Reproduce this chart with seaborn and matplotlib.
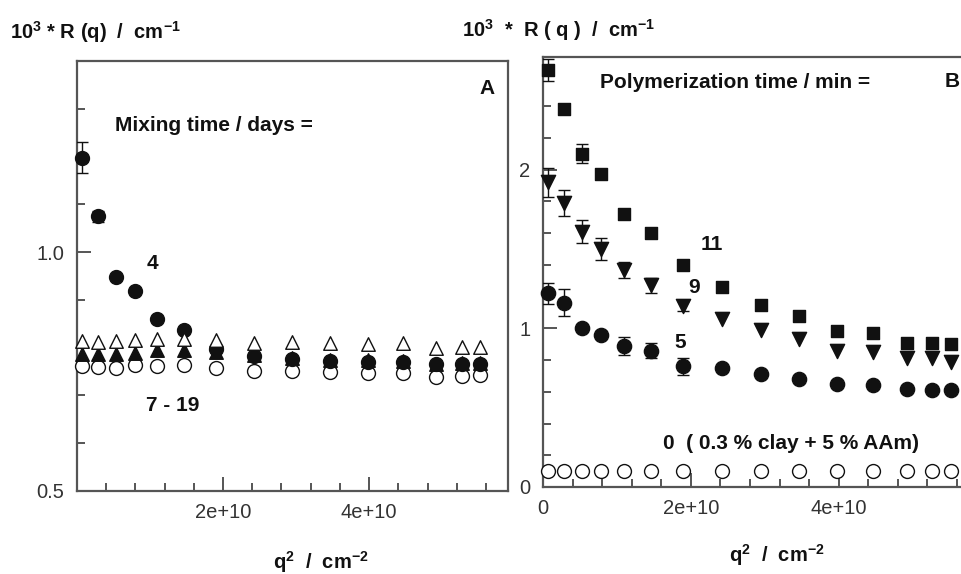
import numpy as np
import pandas as pd
import seaborn as sns
import matplotlib
matplotlib.use("Agg")
import matplotlib.pyplot as plt
from matplotlib.ticker import MultipleLocator, FixedLocator, FuncFormatter

sns.set_style("ticks")
plt.rcParams['font.family'] = ['Liberation Sans', 'DejaVu Sans']
plt.rcParams['mathtext.fontset'] = 'custom'
plt.rcParams['mathtext.rm'] = 'Liberation Sans:bold'
plt.rcParams['mathtext.default'] = 'rm'

# q^2 values (cm^-2), shared by both panels
q2 = np.array([0.07, 0.29, 0.53, 0.79, 1.10, 1.46, 1.90, 2.42, 2.95,
               3.47, 3.98, 4.46, 4.92, 5.27, 5.52]) * 1e10

# panel A: mixing time / days
a_4 = [1.198, 1.075, 0.948, 0.919, 0.861, 0.837, 0.797, 0.782, 0.776,
       0.773, 0.771, 0.770, 0.765, 0.765, 0.766]
a_4_err = [0.032, 0.012, 0, 0, 0, 0, 0, 0, 0, 0, 0, 0, 0, 0, 0]
a_open_tri = [0.814, 0.812, 0.814, 0.817, 0.819, 0.819, 0.816, 0.809, 0.812,
              0.810, 0.808, 0.809, 0.799, 0.802, 0.802]
a_fill_tri = [0.787, 0.787, 0.787, 0.789, 0.795, 0.795, 0.791, 0.785, 0.778,
              0.775, 0.774, 0.773, 0.766, 0.767, 0.767]
a_open_circ = [0.761, 0.759, 0.757, 0.764, 0.761, 0.763, 0.757, 0.752, 0.752,
               0.749, 0.746, 0.747, 0.738, 0.741, 0.743]

# panel B: polymerization time / min
b_11 = [2.63, 2.38, 2.10, 1.97, 1.72, 1.60, 1.40, 1.26, 1.15, 1.08, 0.98, 0.97, 0.91, 0.91, 0.90]
b_11_err = [0.07, 0, 0.06, 0, 0, 0, 0, 0, 0, 0, 0, 0, 0, 0, 0]
b_9 = [1.92, 1.79, 1.61, 1.50, 1.37, 1.27, 1.14, 1.06, 0.99, 0.93, 0.86, 0.85, 0.81, 0.81, 0.79]
b_9_err = [0.09, 0.08, 0.07, 0.07, 0.05, 0.05, 0.03, 0, 0, 0, 0, 0, 0, 0, 0]
b_5 = [1.22, 1.16, 1.00, 0.96, 0.89, 0.86, 0.76, 0.75, 0.71, 0.68, 0.65, 0.64, 0.62, 0.61, 0.61]
b_5_err = [0.065, 0.085, 0.02, 0.02, 0.058, 0.05, 0.053, 0, 0, 0, 0, 0, 0, 0, 0]
b_0 = [0.10, 0.10, 0.10, 0.10, 0.10, 0.10, 0.10, 0.10, 0.10, 0.10, 0.10, 0.10, 0.10, 0.10, 0.10]

INK = '#111111'
SPINE = '#555555'
TICKC = '#333333'

fig = plt.figure(figsize=(9.62, 5.74), dpi=100)
axA = fig.add_axes([0.080, 0.1446, 0.448, 0.7491])
axB = fig.add_axes([0.5645, 0.1516, 0.4532, 0.7491])


def pts(ax, y, marker, filled, size, err=None, z=3):
    df = pd.DataFrame({'q2': q2, 'R': y})
    if err is not None:
        err = np.array(err)
        m = err > 0
        ax.errorbar(q2[m], np.array(y)[m], yerr=err[m], fmt='none', ecolor=INK,
                    elinewidth=1.0, capsize=4, capthick=1.0, zorder=z - 0.5)
    sns.scatterplot(data=df, x='q2', y='R', ax=ax, marker=marker, s=size,
                    color=INK if filled else 'white', edgecolor=INK,
                    linewidth=1.0, zorder=z, clip_on=False, legend=False)


# panel A
pts(axA, a_open_circ, 'o', False, 100, z=3)
pts(axA, a_fill_tri, '^', True, 95, z=4)
pts(axA, a_4, 'o', True, 100, err=a_4_err, z=5)
pts(axA, a_open_tri, '^', False, 95, z=6)

# panel B
pts(axB, b_0, 'o', False, 100, z=3)
pts(axB, b_5, 'o', True, 105, err=b_5_err, z=4)
pts(axB, b_9, 'v', True, 105, err=b_9_err, z=5)
pts(axB, b_11, 's', True, 85, err=b_11_err, z=6)


def qfmt(v, pos):
    return "0" if abs(v) < 1 else f"{v:.0e}"


for ax in (axA, axB):
    ax.set_xlim(0, 5.9e10)
    ax.set_xlabel("")
    ax.set_ylabel("")
    for s in ax.spines.values():
        s.set_visible(True)
        s.set_color(SPINE)
        s.set_linewidth(1.6)
    ax.tick_params(which='both', direction='in', color=SPINE, width=1.4,
                   labelcolor=TICKC, labelsize=14.5, top=False, right=False)
    ax.tick_params(which='major', length=10, pad=9)
    ax.tick_params(which='minor', length=5.5)
    ax.xaxis.set_minor_locator(MultipleLocator(0.4e10))
    ax.xaxis.set_major_formatter(FuncFormatter(qfmt))

axA.set_ylim(0.5, 1.4)
axA.xaxis.set_major_locator(FixedLocator([2e10, 4e10]))
axA.yaxis.set_major_locator(FixedLocator([0.5, 1.0]))
axA.yaxis.set_minor_locator(MultipleLocator(0.1))
axA.yaxis.set_major_formatter(FuncFormatter(lambda v, p: f"{v:.1f}"))

axB.set_ylim(0, 2.71)
axB.xaxis.set_major_locator(FixedLocator([0, 2e10, 4e10]))
axB.yaxis.set_major_locator(FixedLocator([0, 1, 2]))
axB.yaxis.set_minor_locator(MultipleLocator(0.2))
axB.yaxis.set_major_formatter(FuncFormatter(lambda v, p: f"{v:.0f}"))

bold = dict(fontweight='bold', color=INK)

# panel A annotations
axA.text(0.088, 0.849, "Mixing time / days =", fontsize=15, va='center', ha='left', transform=axA.transAxes, **bold)
axA.text(0.951, 0.937, "A", fontsize=15, va='center', ha='center', transform=axA.transAxes, **bold)
axA.text(0.174, 0.530, "4", fontsize=15, va='center', ha='center', transform=axA.transAxes, **bold)
axA.text(0.160, 0.200, "7 - 19", fontsize=15, va='center', ha='left', transform=axA.transAxes, **bold)

# panel B annotations
axB.text(0.131, 0.940, "Polymerization time / min =", fontsize=15, va='center', ha='left', transform=axB.transAxes, **bold)
axB.text(0.955, 0.942, "B", fontsize=15, va='center', ha='right', transform=axB.transAxes, **bold)
axB.text(0.388, 0.563, "11", fontsize=15, va='center', ha='center', transform=axB.transAxes, **bold)
axB.text(0.346, 0.463, "9", fontsize=15, va='center', ha='center', transform=axB.transAxes, **bold)
axB.text(0.314, 0.337, "5", fontsize=15, va='center', ha='center', transform=axB.transAxes, **bold)
axB.text(0.275, 0.102, "0  ( 0.3 % clay + 5 % AAm)", fontsize=15, va='center', ha='left', transform=axB.transAxes, **bold)

# axis titles
fig.text(0.0104, 0.944, r"10$^3$ * R (q)  /  cm$^{-1}$", fontsize=14.5, va='center', ha='left', **bold)
fig.text(0.480, 0.948, r"10$^3$  *  R ( q )  /  cm$^{-1}$", fontsize=14.5, va='center', ha='left', **bold)
fig.text(0.333, 0.021, r"q$^2$  /  cm$^{-2}$", fontsize=14.5, va='center', ha='center', **bold)
fig.text(0.807, 0.033, r"q$^2$  /  cm$^{-2}$", fontsize=14.5, va='center', ha='center', **bold)

fig.savefig("out.png", dpi=100)
